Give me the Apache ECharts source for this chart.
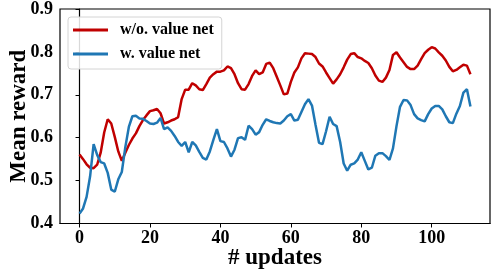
<!DOCTYPE html>
<html>
<head>
<meta charset="utf-8">
<script src="https://cdn.jsdelivr.net/npm/echarts@6/dist/echarts.min.js"></script>
<style>html,body{margin:0;padding:0;background:#fff}#c{width:491px;height:272px}</style>
</head>
<body>
<div id="c"></div>
<script>
var seriesNames = ['w/o. value net', 'w. value net'];
var xTicks = [0, 20, 40, 60, 80, 100];
var yTicks = [0.4, 0.5, 0.6, 0.7, 0.8, 0.9];
var redValues = [
0.561,0.550,0.538,0.530,0.529,0.537,0.565,0.612,0.643,0.633,
0.602,0.568,0.546,0.565,0.583,0.598,0.610,0.627,0.641,0.652,
0.662,0.664,0.667,0.657,0.633,0.636,0.640,0.643,0.648,0.690,
0.712,0.712,0.727,0.722,0.713,0.711,0.725,0.740,0.748,0.754,
0.754,0.757,0.766,0.762,0.748,0.727,0.713,0.712,0.725,0.744,
0.757,0.748,0.752,0.772,0.775,0.762,0.742,0.722,0.701,0.703,
0.730,0.752,0.764,0.785,0.797,0.796,0.795,0.788,0.773,0.766,
0.752,0.739,0.726,0.736,0.748,0.764,0.782,0.795,0.797,0.788,
0.785,0.779,0.774,0.762,0.745,0.733,0.730,0.740,0.758,0.793,
0.799,0.787,0.776,0.765,0.760,0.760,0.768,0.783,0.797,0.805,
0.811,0.808,0.799,0.791,0.780,0.765,0.755,0.758,0.764,0.770,
0.768,0.748];
var blueValues = [
0.423,0.435,0.462,0.510,0.585,0.560,0.543,0.540,0.518,0.479,
0.474,0.503,0.520,0.578,0.625,0.650,0.651,0.645,0.644,0.639,
0.633,0.632,0.635,0.646,0.620,0.624,0.616,0.604,0.590,0.581,
0.590,0.566,0.590,0.582,0.567,0.553,0.549,0.568,0.595,0.620,
0.592,0.590,0.575,0.556,0.572,0.599,0.601,0.595,0.628,0.620,
0.607,0.613,0.630,0.643,0.639,0.636,0.634,0.633,0.640,0.650,
0.655,0.640,0.642,0.660,0.678,0.690,0.675,0.630,0.588,0.585,
0.615,0.649,0.632,0.627,0.590,0.540,0.523,0.537,0.540,0.549,
0.566,0.546,0.526,0.530,0.558,0.564,0.564,0.557,0.548,0.575,
0.627,0.672,0.688,0.687,0.676,0.655,0.645,0.641,0.638,0.655,
0.668,0.674,0.674,0.666,0.650,0.636,0.634,0.656,0.674,0.705,
0.713,0.673];

var font = '"Liberation Serif", "DejaVu Serif", serif';
function toPairs(arr){ return arr.map(function(v,i){ return [i, v]; }); }

var chart = echarts.init(document.getElementById('c'), null, {renderer:'canvas'});
chart.setOption({
  animation: false,
  backgroundColor: '#fff',
  grid: { left: 60, right: 1, top: 9, bottom: 48.5, containLabel: false, outerBoundsMode: 'none',
    show: true, borderColor: '#000', borderWidth: 1.2, backgroundColor: 'transparent' },
  legend: {
    orient: 'vertical', left: 68, top: 17,
    data: seriesNames,
    itemWidth: 35, itemHeight: 3, icon: 'rect', itemGap: 8,
    padding: [5, 8, 7, 5],
    borderColor: '#d4d4d4', borderWidth: 1, borderRadius: 3,
    backgroundColor: 'rgba(255,255,255,0.85)',
    textStyle: { fontFamily: font, fontWeight: 'bold', fontSize: 16, color: '#000', padding: [0,0,0,7] }
  },
  xAxis: {
    type: 'value', min: -5.55, max: 116.55,
    name: '# updates', nameLocation: 'middle', nameGap: 23, nameMoveOverlap: false,
    nameTextStyle: { fontFamily: font, fontWeight: 'bold', fontSize: 23, color: '#000' },
    axisLine: { show: true, onZero: false, lineStyle: { color: '#000', width: 1.2 } },
    axisTick: { show: true, length: 4, lineStyle: { color: '#000', width: 1 }, customValues: xTicks },
    axisLabel: { customValues: xTicks, margin: 6, fontFamily: font, fontWeight: 'bold', fontSize: 18, color: '#000' },
    splitLine: { show: false }
  },
  yAxis: {
    type: 'value', min: 0.4, max: 0.9, interval: 0.1,
    name: 'Mean reward', nameLocation: 'middle', nameGap: 29, nameMoveOverlap: false,
    nameTextStyle: { fontFamily: font, fontWeight: 'bold', fontSize: 23, color: '#000' },
    axisLine: { show: true, lineStyle: { color: '#000', width: 1.2 } },
    axisTick: { show: true, length: 4, lineStyle: { color: '#000', width: 1 } },
    axisLabel: { margin: 7, fontFamily: font, fontWeight: 'bold', fontSize: 18, color: '#000',
      formatter: function(v){ return v.toFixed(1); } },
    splitLine: { show: false }
  },
  series: [
    { name: seriesNames[0], type: 'line', data: toPairs(redValues), showSymbol: false, symbol: 'none',
      itemStyle: { color: '#c00000' }, lineStyle: { color: '#c00000', width: 2.5 } },
    { name: seriesNames[1], type: 'line', data: toPairs(blueValues), showSymbol: false, symbol: 'none',
      itemStyle: { color: '#1f77b4' }, lineStyle: { color: '#1f77b4', width: 2.5 } }
  ]
});
</script>
</body>
</html>
